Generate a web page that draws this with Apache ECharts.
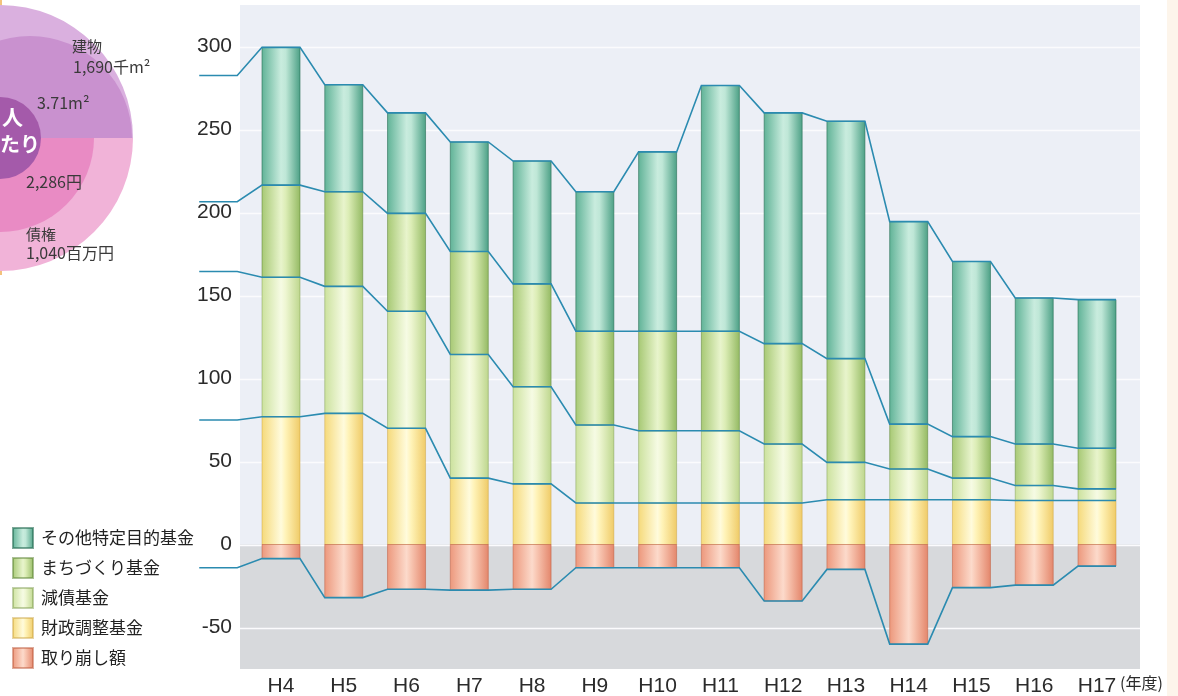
<!DOCTYPE html>
<html>
<head>
<meta charset="utf-8">
<script src="https://cdn.jsdelivr.net/npm/echarts@6/dist/echarts.min.js"></script>
<style>
  html, body { margin: 0; padding: 0; background: #ffffff; }
  #chart { width: 1178px; height: 696px; }
</style>
</head>
<body>
<div id="chart"></div>
<script>
// Fiscal years (H3 is the prior year: only its connecting lines are drawn)
const years = ['H3', 'H4', 'H5', 'H6', 'H7', 'H8', 'H9', 'H10', 'H11', 'H12', 'H13', 'H14', 'H15', 'H16', 'H17'];

// Fund balances (億円)
const zaiseiChosei = [75, 77, 79, 70, 40, 36.5, 25, 25, 25, 25, 27, 27, 27, 26.5, 26.5];      // 財政調整基金
const gensai       = [89.5, 84, 76.5, 70.5, 74.5, 58.5, 47, 43.5, 43.5, 35.5, 22.5, 18.5, 13, 9, 7]; // 減債基金
const machizukuri  = [42, 55.5, 57, 59, 62, 62, 56.5, 60, 60, 60.5, 62.5, 27, 25, 25, 24.5];     // まちづくり基金
const sonota       = [76, 83, 64.5, 60.5, 66, 74, 84, 108, 148, 139, 143, 122, 105.5, 88, 89.5]; // その他特定目的基金
const torikuzushi  = [-14, -8.5, -32, -27, -27.5, -27, -14, -14, -14, -34, -15, -60, -26, -24.5, -13]; // 取り崩し額

const yTicks = [-50, 0, 50, 100, 150, 200, 250, 300];
const Y_MIN = -75, Y_MAX = 325;
const BAR_W = 38;

const names = ['その他特定目的基金', 'まちづくり基金', '減債基金', '財政調整基金', '取り崩し額'];

function grad(c0, c1, c2, c3) {
  return { type: 'linear', x: 0, y: 0, x2: 1, y2: 0,
    colorStops: [ { offset: 0, color: c0 }, { offset: 0.5, color: c1 }, { offset: 0.62, color: c2 }, { offset: 1, color: c3 } ] };
}
const fills = {
  sonota: grad('#5fb296', '#c9ecde', '#bfe7d7', '#4a9f84'),
  machi:  grad('#a6c873', '#e8f4cc', '#dcedb6', '#93b962'),
  gensai: grad('#cbe19c', '#f6fbe4', '#eef6d2', '#bdd68c'),
  zaisei: grad('#f5d979', '#fffbdc', '#fff3b8', '#efca66'),
  tori:   grad('#ec977b', '#fcdacb', '#f8c6b2', '#e3856a')
};
const borders = {
  sonota: 'rgba(40,110,85,0.6)',
  machi:  'rgba(90,130,50,0.5)',
  gensai: 'rgba(120,150,70,0.45)',
  zaisei: 'rgba(200,160,60,0.45)',
  tori:   'rgba(190,90,60,0.5)'
};

// stacked bases
const base1 = zaiseiChosei.map(() => 0);
const base2 = zaiseiChosei.slice();
const base3 = zaiseiChosei.map((v, i) => v + gensai[i]);
const base4 = base3.map((v, i) => v + machizukuri[i]);
const top4  = base4.map((v, i) => v + sonota[i]);

// boundary lines connecting the bars
const boundaries = [zaiseiChosei, base3, base4, top4, torikuzushi];

function barData(values, bases) {
  const out = [];
  for (let i = 1; i < years.length; i++) out.push([i, values[i], bases[i]]);
  return out;
}

function barItem(fill, stroke) {
  return function (params, api) {
    const i = api.value(0), v = api.value(1), b = api.value(2);
    const a = api.coord([i, b]);
    const c = api.coord([i, b + v]);
    return {
      type: 'rect',
      shape: { x: a[0] - BAR_W / 2, y: Math.min(a[1], c[1]), width: BAR_W, height: Math.abs(a[1] - c[1]) },
      style: { fill: fill, stroke: stroke, lineWidth: 1 }
    };
  };
}

function barSeries(name, values, bases, key) {
  return {
    type: 'custom', name: name, z: 2,
    itemStyle: { color: fills[key], borderColor: borders[key], borderWidth: 1 },
    encode: { x: 0, y: 1 },
    data: barData(values, bases),
    renderItem: barItem(fills[key], borders[key])
  };
}

const chart = echarts.init(document.getElementById('chart'), null, { renderer: 'canvas' });

const option = {
  animation: false,
  backgroundColor: '#ffffff',
  grid: {
    left: 240, right: 38, top: 5, bottom: 27,
    show: true, backgroundColor: '#eceff6', borderWidth: 0,
    outerBoundsMode: 'none'
  },
  xAxis: {
    type: 'value', min: 0.3468, max: 14.685,
    axisLine: { show: false }, axisTick: { show: false }, splitLine: { show: false },
    axisLabel: {
      customValues: years.map((_, i) => i).slice(1),
      formatter: v => years[v],
      fontFamily: 'Liberation Sans', fontSize: 21, color: '#2b2b2b', margin: 7
    }
  },
  yAxis: {
    type: 'value', min: Y_MIN, max: Y_MAX, interval: 25,
    axisLine: { show: false }, axisTick: { show: false }, splitLine: { show: false },
    axisLabel: {
      formatter: v => (v % 50 === 0 ? String(v) : ''),
      fontFamily: 'Liberation Sans', fontSize: 21, color: '#2b2b2b', margin: 8
    }
  },
  legend: {
    data: names,
    orient: 'vertical', left: 12, top: 527, padding: 0,
    icon: 'rect', itemWidth: 20, itemHeight: 20, itemGap: 8,
    textStyle: { fontFamily: 'Noto Sans CJK JP', fontSize: 17, color: '#222', padding: [0, 0, 0, 3], lineHeight: 22 },
    selectedMode: false
  },
  graphic: [
    // page edge
    { type: 'rect', shape: { x: 1167, y: 0, width: 11, height: 696 }, style: { fill: '#fdf5eb' }, z: 0 },
    // per-capita diagram (left)
    { type: 'rect', shape: { x: 0, y: 0, width: 2, height: 275 }, style: { fill: '#f3c27c' }, z: 0 },
    { type: 'sector', shape: { cx: 0, cy: 138, r: 133, r0: 0, startAngle: Math.PI, endAngle: Math.PI * 2 }, style: { fill: '#dab0df' } },
    { type: 'sector', shape: { cx: 0, cy: 138, r: 133, r0: 0, startAngle: 0, endAngle: Math.PI }, style: { fill: '#f1b3d8' } },
    { type: 'sector', shape: { cx: 30, cy: 138, r: 102, r0: 0, startAngle: Math.PI, endAngle: Math.PI * 2 }, style: { fill: '#c991cf' } },
    { type: 'sector', shape: { cx: 0, cy: 138, r: 94, r0: 0, startAngle: 0, endAngle: Math.PI }, style: { fill: '#e98bc4' } },
    { type: 'circle', shape: { cx: 0, cy: 138, r: 41 }, style: { fill: '#a45aaa' } },
    { type: 'text', x: 2, y: 107, style: { text: '人', fill: '#ffffff', fontSize: 21, fontWeight: 'bold', fontFamily: 'Noto Sans CJK JP' } },
    { type: 'text', x: 0, y: 134, style: { text: 'たり', fill: '#ffffff', fontSize: 20, fontWeight: 'bold', fontFamily: 'Noto Sans CJK JP' } },
    { type: 'text', x: 72, y: 39, style: { text: '建物', fill: '#3a3a3a', fontSize: 15, fontFamily: 'Noto Sans CJK JP' } },
    { type: 'text', x: 73, y: 59, style: { text: '1,690千m²', fill: '#3a3a3a', fontSize: 16, fontFamily: 'Noto Sans CJK JP' } },
    { type: 'text', x: 37, y: 95, style: { text: '3.71m²', fill: '#3a3a3a', fontSize: 16, fontFamily: 'Noto Sans CJK JP' } },
    { type: 'text', x: 26, y: 174, style: { text: '2,286円', fill: '#3a3a3a', fontSize: 16, fontFamily: 'Noto Sans CJK JP' } },
    { type: 'text', x: 26, y: 227, style: { text: '債権', fill: '#3a3a3a', fontSize: 15, fontFamily: 'Noto Sans CJK JP' } },
    { type: 'text', x: 26, y: 245, style: { text: '1,040百万円', fill: '#3a3a3a', fontSize: 16, fontFamily: 'Noto Sans CJK JP' } },
    // unit of the x axis
    { type: 'text', x: 1120, y: 675, z: 5, style: { text: '(年度)', fill: '#2b2b2b', fontSize: 16, fontFamily: 'Noto Sans CJK JP' } }
  ],
  series: [
    {
      // negative band and white grid lines
      type: 'custom', name: 'bg', z: 1, silent: true,
      encode: { x: 0, y: 1 },
      data: [[1, 0]],
      renderItem: function (params, api) {
        const cs = params.coordSys;
        const y0 = api.coord([1, 0])[1];
        const yb = api.coord([1, Y_MIN])[1];
        const children = [{
          type: 'rect', shape: { x: cs.x, y: y0, width: cs.width, height: yb - y0 },
          style: { fill: '#d7d9dc' }
        }];
        yTicks.forEach(t => {
          const y = Math.round(api.coord([1, t])[1]) + 0.5;
          children.push({ type: 'line', shape: { x1: cs.x, y1: y, x2: cs.x + cs.width, y2: y },
            style: { stroke: '#fbfbfd', lineWidth: 1.5 } });
        });
        return { type: 'group', children: children };
      }
    },
    barSeries('財政調整基金', zaiseiChosei, base1, 'zaisei'),
    barSeries('減債基金', gensai, base2, 'gensai'),
    barSeries('まちづくり基金', machizukuri, base3, 'machi'),
    barSeries('その他特定目的基金', sonota, base4, 'sonota'),
    barSeries('取り崩し額', torikuzushi, base1, 'tori'),
    {
      // connecting lines across bar tops
      type: 'custom', name: 'links', z: 3, silent: true, clip: false,
      encode: { x: 0, y: 1 },
      data: boundaries.map((_, k) => [k + 1, 0]),
      renderItem: function (params, api) {
        const arr = boundaries[params.dataIndex];
        const pts = [];
        arr.forEach((v, i) => {
          const p = api.coord([i, v]);
          pts.push([p[0] - BAR_W / 2, p[1]], [p[0] + BAR_W / 2, p[1]]);
        });
        return { type: 'polyline', shape: { points: pts },
          style: { stroke: '#2b8bb0', lineWidth: 1.6, fill: null } };
      }
    }
  ]
};

chart.setOption(option);
</script>
</body>
</html>
